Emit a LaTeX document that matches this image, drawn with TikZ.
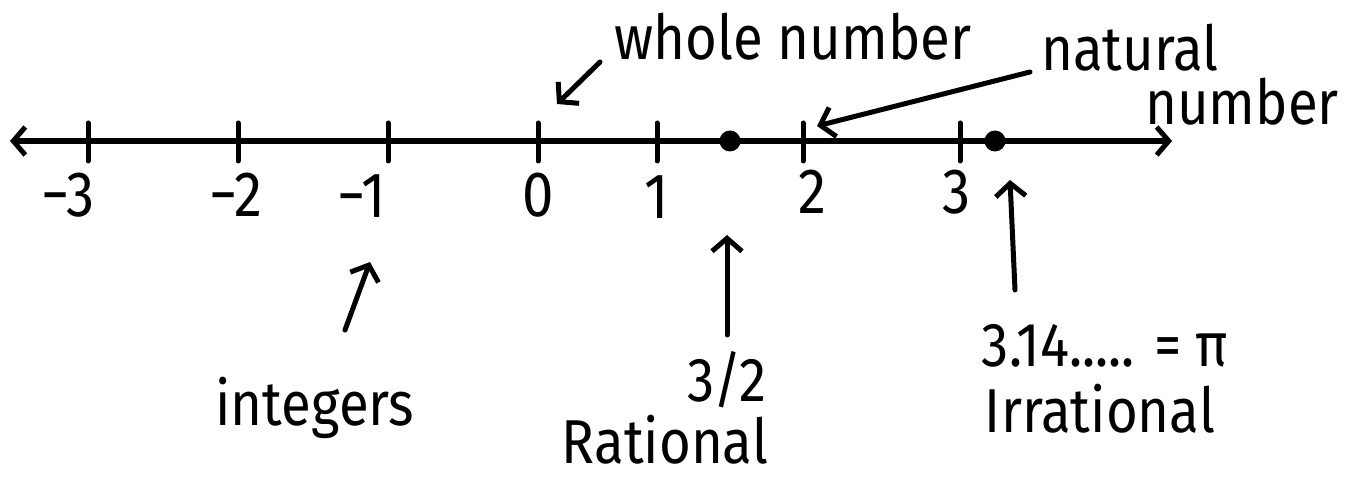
\documentclass[tikz,border=0pt]{standalone}
\usepackage{fontspec}
\setmainfont{Fira Sans}
\newfontfamily\handfont[FakeStretch=0.88]{Fira Sans}
\usetikzlibrary{arrows.meta}
\tikzset{
  axisline/.style={line width=5.5pt, line cap=round, line join=round,
    {Straight Barb[length=12pt,width=28pt,line width=5pt]}-{Straight Barb[length=12pt,width=28pt,line width=5pt]}},
  tickmark/.style={line width=5pt, line cap=round},
  pointer/.style={line width=5pt, line cap=round, line join=round,
    -{Straight Barb[length=13pt,width=30pt,line width=5pt]}},
  numlabel/.style={font=\handfont\fontsize{64}{70}\selectfont, inner sep=0pt},
  txt/.style={font=\handfont\fontsize{62}{68}\selectfont, inner sep=0pt, align=center},
  dotmark/.style={fill=black, circle, inner sep=0pt, minimum size=21pt}
}
\begin{document}
\begin{tikzpicture}[x=1pt,y=-1pt]
\useasboundingbox (0,0) rectangle (1347,478);
% axis
\coordinate (L) at (10,141);
\coordinate (R) at (1172,141);
\draw[axisline] (L) -- (R);
% ticks
\foreach \n/\x in {m3/88, m2/238, m1/388, z/538, one/657, two/803, three/960} {
  \coordinate (t\n) at (\x,141);
  \draw[tickmark] ([yshift=-20pt]t\n) -- ([yshift=18pt]t\n);
}
% tick labels
\node[numlabel] (lm3) at (68,195) {−3};
\node[numlabel] (lm2) at (236,195) {−2};
\node[numlabel] (lm1) at (362,196) {−1};
\node[numlabel] (lz) at (538,195) {0};
\node[numlabel] (lone) at (657,197) {1};
\node[numlabel] (ltwo) at (812,192) {2};
\node[numlabel] (lthree) at (957,192) {3};
% dots
\node[dotmark] (d32) at (730,141) {};
\node[dotmark] (dpi) at (995,141) {};
% top labels
\node[txt] (whole) at (793,37) {whole number};
\node[txt] (nat1) at (1130,48) {natural};
\node[txt] (nat2) at (1242,102) {number};
\coordinate (wA) at (600,62);
\coordinate (wB) at (557,104);
\draw[pointer] (wA) -- (wB);
\coordinate (nA) at (1030,72);
\coordinate (nB) at (817,126);
\draw[pointer] (nA) -- (nB);
% bottom labels
\node[txt] (integers) at (315,408) {integers};
\coordinate (iA) at (345,330);
\coordinate (iB) at (370,262);
\draw[pointer] (iA) -- (iB);
\node[txt] (frac) at (727,380) {3/2};
\node[txt] (rational) at (665,440) {Rational};
\coordinate (rA) at (727,335);
\coordinate (rB) at (727,235);
\draw[pointer] (rA) -- (rB);
\node[txt] (pival) at (1105,346) {3.14..... = π};
\node[txt] (irr) at (1100,409) {Irrational};
\coordinate (pA) at (1015,290);
\coordinate (pB) at (1010,180);
\draw[pointer] (pA) -- (pB);
\end{tikzpicture}
\end{document}
